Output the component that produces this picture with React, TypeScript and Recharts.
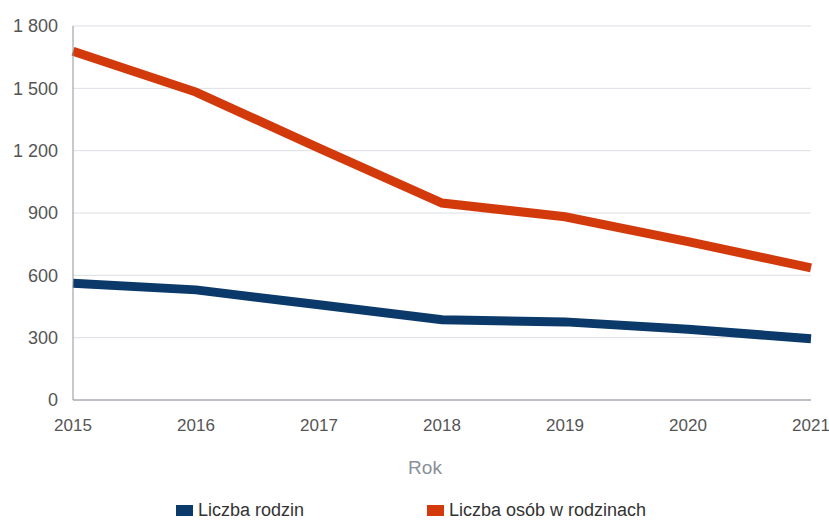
import { LineChart, Line, XAxis, YAxis, CartesianGrid, Legend } from 'recharts';

const years = ['2015', '2016', '2017', '2018', '2019', '2020', '2021'];
const families = [562, 530, 458, 386, 376, 340, 295];
const persons = [1678, 1482, 1212, 948, 882, 762, 636];
const yTicks = [0, 300, 600, 900, 1200, 1500, 1800];

const BLUE = '#0b3a6a';
const RED = '#d23a0c';

const data = years.map((year, i) => ({ year, families: families[i], persons: persons[i] }));

const fmt = (n: number) => String(n).replace(/\B(?=(\d{3})+(?!\d))/g, ' ');

function LegendBox() {
  const items = [
    { label: 'Liczba rodzin', color: BLUE, w: 251 },
    { label: 'Liczba osób w rodzinach', color: RED, w: 300 },
  ];
  return (
    <div style={{ display: 'flex', alignItems: 'center', height: 20, paddingLeft: 176, fontSize: 18, color: '#333' }}>
      {items.map((it) => (
        <div key={it.label} style={{ display: 'flex', alignItems: 'center', width: it.w }}>
          <span style={{ display: 'inline-block', width: 17, height: 11, background: it.color, marginRight: 5 }} />
          {it.label}
        </div>
      ))}
    </div>
  );
}

export default function App() {
  return (
    <div style={{ position: 'absolute', left: 0, top: 0, background: '#fff', fontFamily: '"Liberation Sans", Arial, sans-serif' }}>
      <LineChart width={829} height={520} data={data} margin={{ top: 26, right: 18, left: 0, bottom: 0 }}>
        <CartesianGrid vertical={false} stroke="#dcdfe5" />
        <XAxis
          dataKey="year"
          axisLine={{ stroke: '#8d929b' }}
          tickLine={false}
          tickMargin={13}
          tick={{ fontSize: 17, fill: '#555' }}
          height={100}
          label={{ value: 'Rok', position: 'insideTop', offset: 61, dx: -17, fontSize: 19, fill: '#8a8f99' }}
        />
        <YAxis
          domain={[0, 1800]}
          ticks={yTicks}
          interval={0}
          width={73}
          axisLine={{ stroke: '#8d929b' }}
          tickLine={false}
          tickMargin={9}
          tickFormatter={fmt}
          tick={{ fontSize: 18, fill: '#555' }}
        />
        <Legend verticalAlign="bottom" content={() => <LegendBox />} wrapperStyle={{ bottom: 0, height: 20 }} />
        <Line type="linear" dataKey="persons" stroke={RED} strokeWidth={9} dot={false} isAnimationActive={false} />
        <Line type="linear" dataKey="families" stroke={BLUE} strokeWidth={9} dot={false} isAnimationActive={false} />
      </LineChart>
    </div>
  );
}
